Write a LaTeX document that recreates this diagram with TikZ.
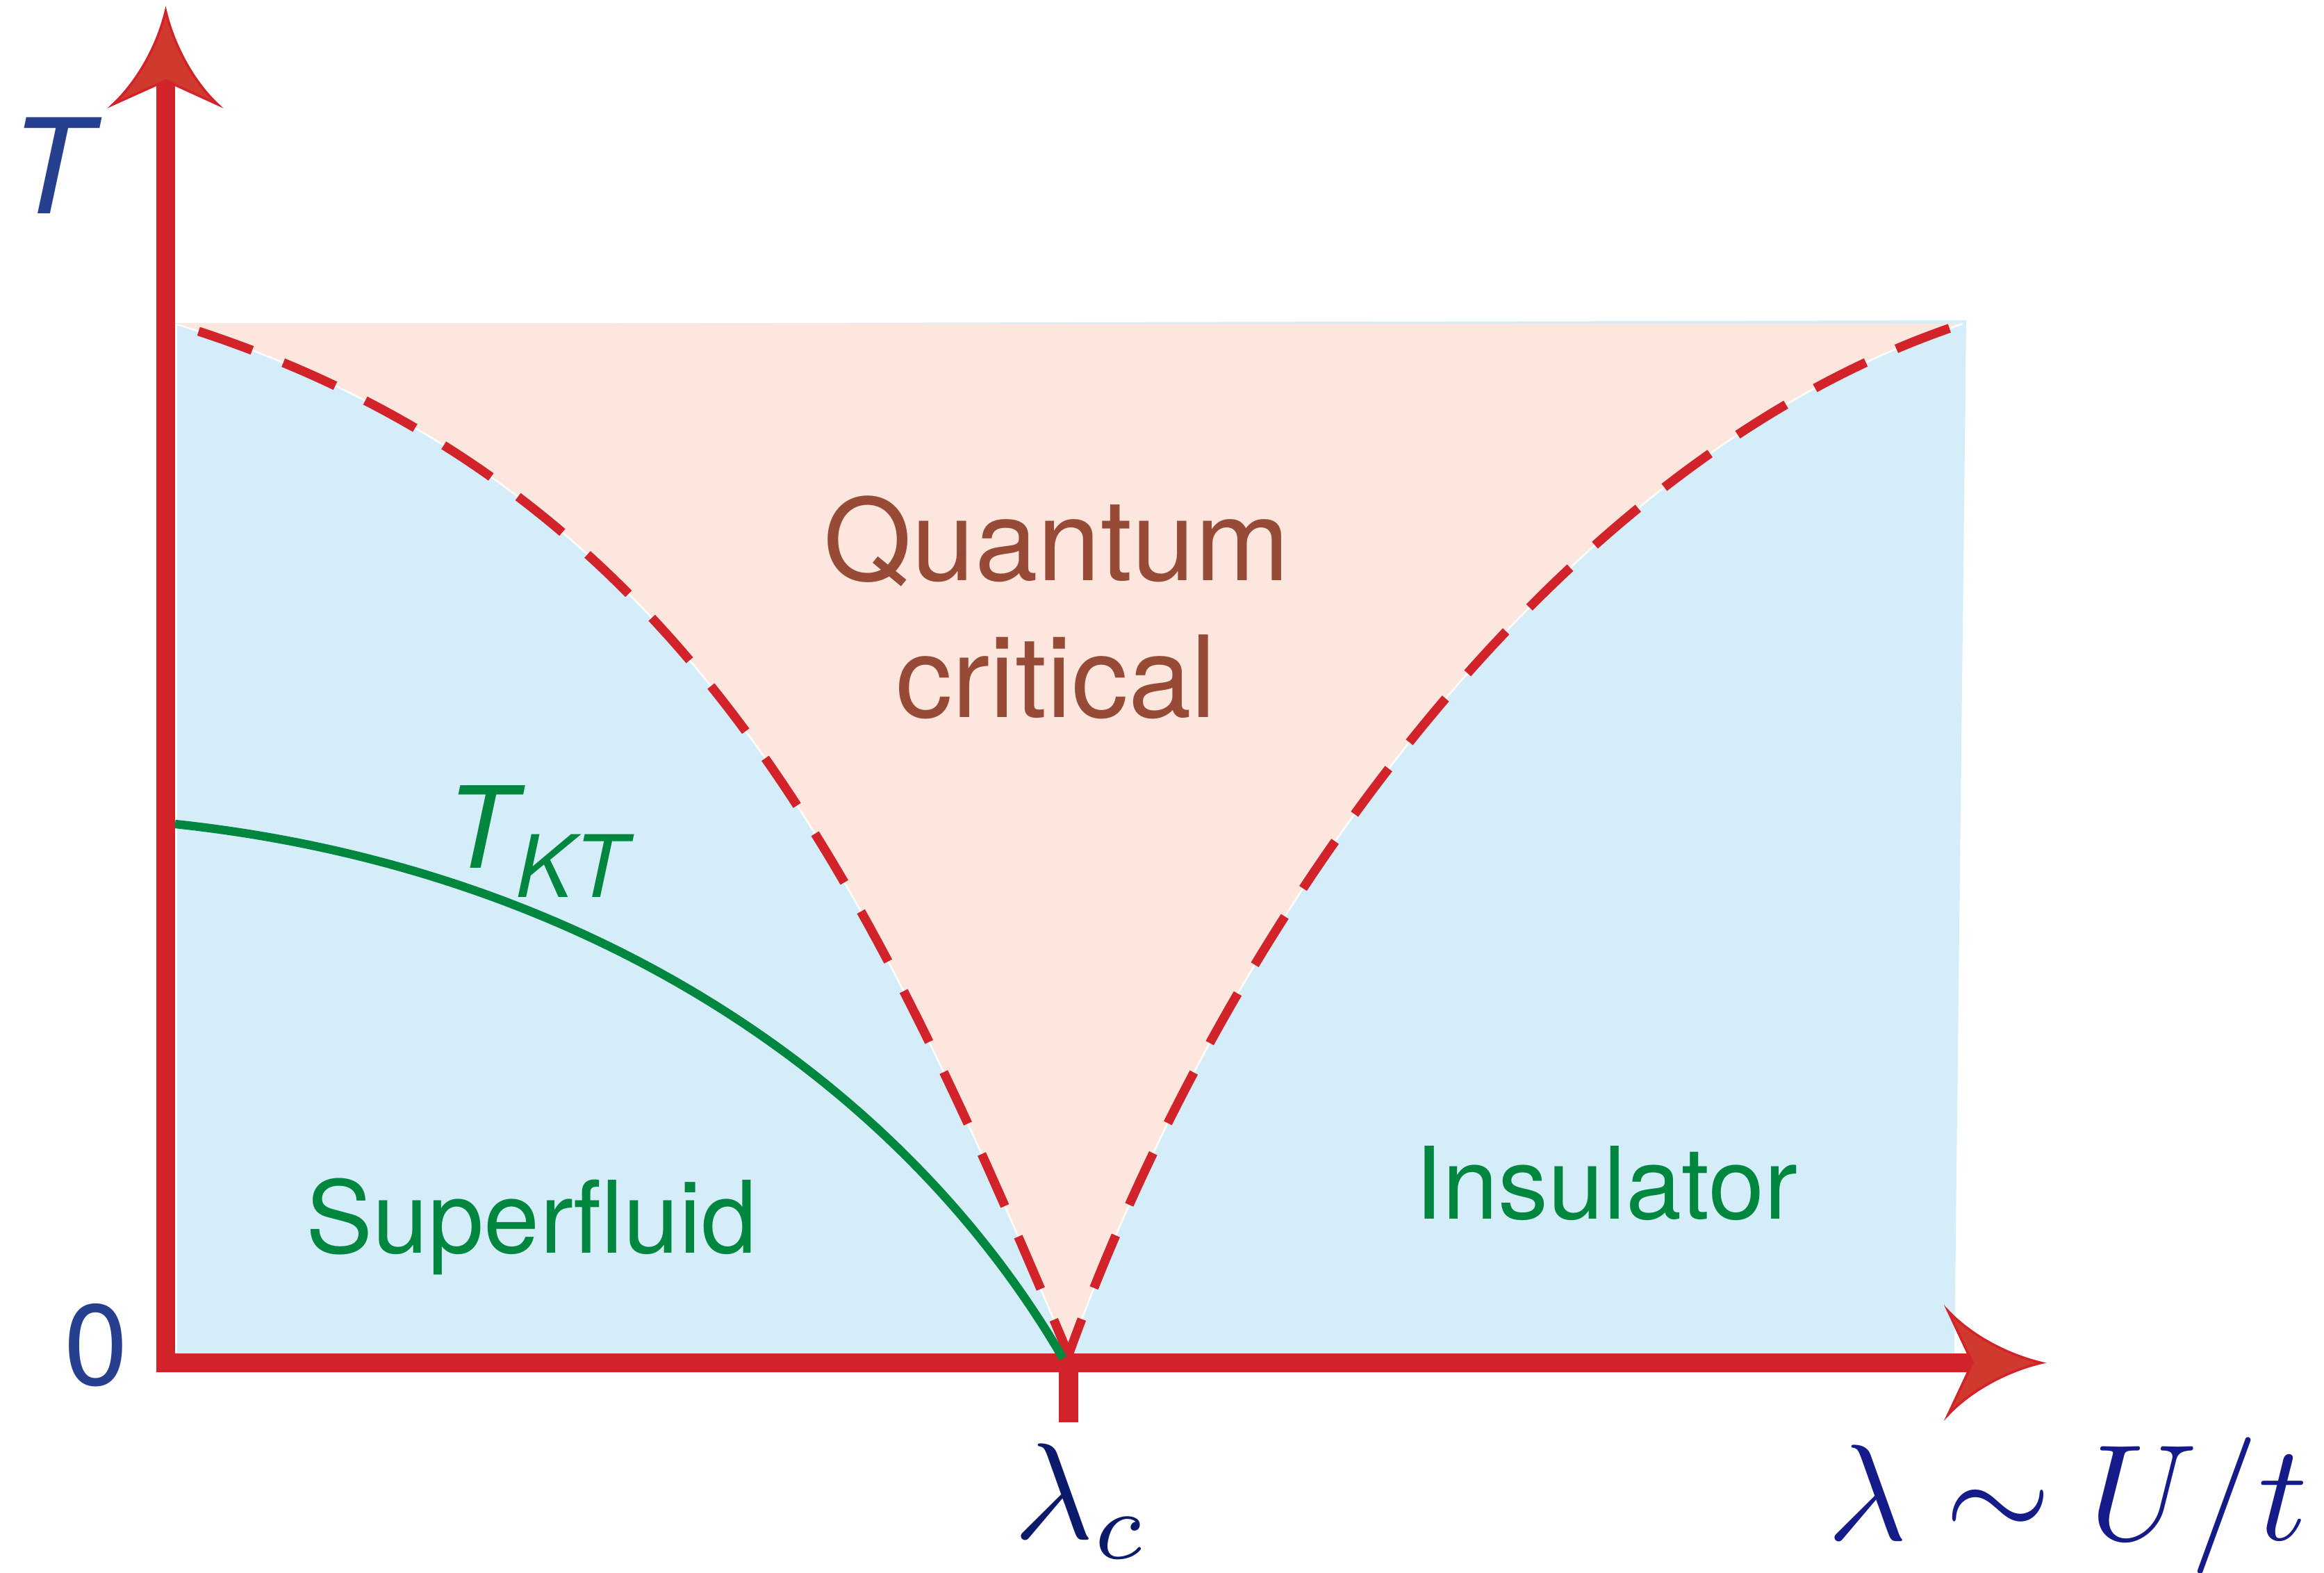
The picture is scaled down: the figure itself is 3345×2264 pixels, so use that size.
\documentclass[tikz,border=0pt]{standalone}
\usepackage{graphicx}
\usepackage[no-math]{fontspec}
\setmainfont{TeX Gyre Heros}

\definecolor{axisred}{HTML}{D2232A}
\definecolor{headred}{HTML}{D0392D}
\definecolor{sfblue}{HTML}{D5ECF9}
\definecolor{qcpink}{HTML}{FCE6DD}
\definecolor{tktgreen}{HTML}{00873F}
\definecolor{qcbrown}{HTML}{974A36}
\definecolor{tblue}{HTML}{26408F}
\definecolor{lamblue}{HTML}{151C8A}
\definecolor{lamcblue}{HTML}{0C1A6C}

\begin{document}
\begin{tikzpicture}[x=0.1mm,y=-0.1mm,
    axisline/.style={draw=axisred,line width=7.7pt},
    ahead/.style={fill=headred,draw=axisred,line width=1pt},
    crit/.style={draw=axisred,line width=3.7pt,
        dash pattern=on 23.3pt off 13.7pt,dash phase=7.7pt},
    seam/.style={draw=white,line width=0.7pt},
    regionlabel/.style={inner sep=0pt,anchor=base,text=tktgreen,
        font=\fontsize{41}{41}\selectfont},
    qclabel/.style={inner sep=0pt,anchor=base,text=qcbrown,
        font=\fontsize{46.4}{46.4}\selectfont},
    mathlabel/.style={inner sep=0pt,anchor=base}]
\useasboundingbox (0,0) rectangle (3345,2264);

\coordinate (O) at (238.5,1961.5);
\coordinate (ynotch) at (238.5,116);
\coordinate (ytip) at (238.5,16);
\coordinate (xnotch) at (2839,1961.5);
\coordinate (xtip) at (2938,1961.5);
\coordinate (qcp) at (1538,1950);
\coordinate (tick) at (1538,2047);
\coordinate (SFtop) at (255,467);
\coordinate (INtop) at (2825,466);
\coordinate (tktstart) at (252,1186);
\coordinate (tktend) at (1530,1955);

\fill[sfblue] (SFtop) -- (2830,461) -- (2813,1950) -- (255,1950) -- cycle;
\fill[qcpink] (252,465) -- (INtop) .. controls (2225,664) and (1754,1350) .. (qcp)
    .. controls (1244,1250) and (975,690) .. (SFtop) -- cycle;
\draw[seam] (qcp) .. controls (1244,1250) and (975,690) .. (SFtop);
\draw[seam] (qcp) .. controls (1754,1350) and (2225,664) .. (INtop);

\draw[axisline] (ynotch) -- (O) -- (xnotch);
\draw[axisline] (O -| qcp) -- (tick);

\draw[crit] (qcp) .. controls (1244,1250) and (975,690) .. (SFtop);
\draw[crit] (qcp) .. controls (1754,1350) and (2225,664) .. (INtop);
\draw[tktgreen,line width=3.5pt] (tktstart) .. controls (850,1250) and (1300,1560) .. (tktend);

\draw[ahead] (ytip) .. controls +(-13,54) and +(32,-30) .. (163,150) -- (ynotch)
    -- (313,150) .. controls +(-32,-30) and +(13,54) .. (ytip) -- cycle;
\draw[ahead] (xtip) .. controls +(-54,-13) and +(30,32) .. (2804,1887) -- (xnotch)
    -- (2804,2036) .. controls +(30,-32) and +(-54,13) .. (xtip) -- cycle;

\node[inner sep=0pt,anchor=base,text=tblue,font=\fontsize{54}{54}\selectfont\itshape]
    (Tlab) at (72,307) {T};
\node[inner sep=0pt,anchor=base,text=tblue,font=\fontsize{47}{47}\selectfont]
    (zero) at (138,1993) {0};
\node[mathlabel,text=lamcblue] (lamc) at (1557,2214) {\scalebox{5.6}{$\lambda_c$}};
\node[mathlabel,text=lamblue] (lam) at (2976,2216) {\scalebox{5.6}{$\lambda\sim U/t$}};
\node[qclabel] (qc1) at (1521,835) {Quantum};
\node[qclabel] (qc2) at (1520,1032) {critical};
\node[regionlabel] (sf) at (765,1803) {Superfluid};
\node[regionlabel] (ins) at (2312,1754) {Insulator};
\node[inner sep=0pt,anchor=base west,text=tktgreen,
    font=\fontsize{46.4}{46.4}\selectfont\itshape]
    (tkt) at (642,1249) {T\raisebox{-12pt}{\fontsize{35.3}{35.3}\selectfont KT}};
\end{tikzpicture}
\end{document}
